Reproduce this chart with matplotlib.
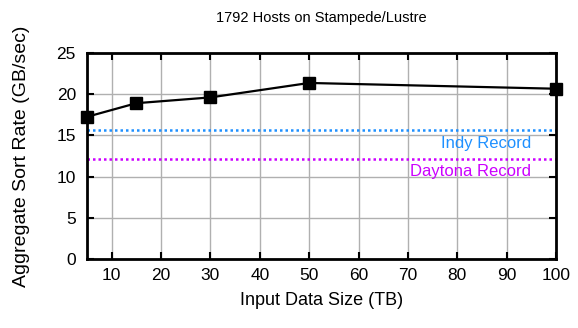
import matplotlib
matplotlib.use("Agg")
import matplotlib.pyplot as plt

sizes_tb = [5, 15, 30, 50, 100]
sort_rate = [17.25, 18.9, 19.6, 21.35, 20.65]
indy_record = 15.7
daytona_record = 12.1
xticks = [10, 20, 30, 40, 50, 60, 70, 80, 90, 100]
yticks = [0, 5, 10, 15, 20, 25]

plt.rcParams['font.family'] = ['Liberation Sans', 'DejaVu Sans']
plt.rcParams['font.size'] = 12.5

fig = plt.figure(figsize=(5.78, 3.28), dpi=100)
ax = fig.add_axes([0.1505, 0.2095, 0.8115, 0.6295])

ax.grid(True, color='#b0b0b0', linewidth=1.0)
ax.set_axisbelow(True)
ax.axhline(indy_record, color='#1e90ff', linestyle=(0, (1, 1.2)), linewidth=1.8)
ax.axhline(daytona_record, color='#cc00ff', linestyle=(0, (1, 1.2)), linewidth=1.8)
ax.plot(sizes_tb, sort_rate, color='black', linewidth=1.6, marker='s', markersize=8,
        clip_on=False, zorder=5)

ax.text(95, 14.0, 'Indy Record', color='#1e90ff', ha='right', va='center', fontsize=12)
ax.text(95, 10.6, 'Daytona Record', color='#cc00ff', ha='right', va='center', fontsize=12)

ax.set_xlim(5, 100)
ax.set_ylim(0, 25)
ax.set_xticks(xticks)
ax.set_yticks(yticks)
ax.tick_params(axis='both', direction='in', top=True, right=True, length=5, width=1.5)
ax.tick_params(axis='x', pad=6)
ax.tick_params(axis='y', pad=8)
for s in ax.spines.values():
    s.set_linewidth(2)

ax.set_xlabel('Input Data Size (TB)', fontsize=13, labelpad=7)
ax.set_ylabel('Aggregate Sort Rate (GB/sec)', fontsize=14, labelpad=19)
ax.set_title('1792 Hosts on Stampede/Lustre', fontsize=10.5, pad=22)

fig.savefig('out.png', dpi=100)
